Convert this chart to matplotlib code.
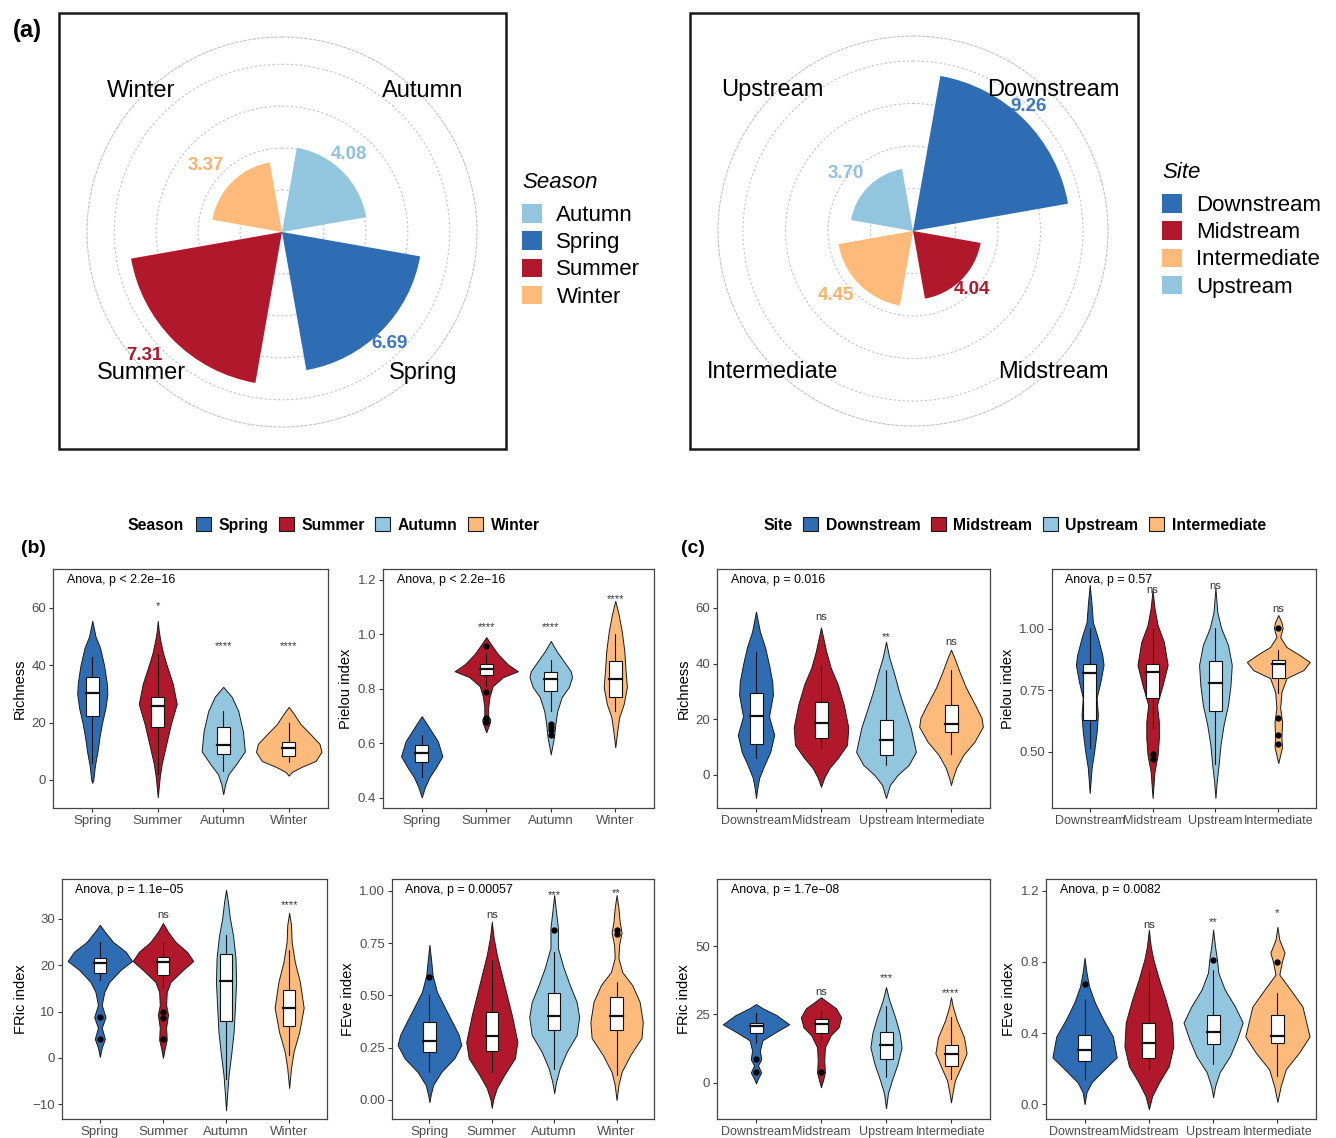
"""Rose charts of seasonal / site totals plus violin panels of diversity indices."""

import matplotlib
import numpy as np

matplotlib.use("Agg")
import matplotlib.pyplot as plt
from matplotlib.patches import Patch, Rectangle

plt.rcParams["font.family"] = ["Liberation Sans", "DejaVu Sans"]

# ---------------------------------------------------------------- data
SEASONS = ["Spring", "Summer", "Autumn", "Winter"]
SITES = ["Downstream", "Midstream", "Upstream", "Intermediate"]
BLUE, RED, LBLUE, ORANGE = "#2E6DB4", "#B2182B", "#92C5DE", "#FDBA7B"
GROUP_COLORS = [BLUE, RED, LBLUE, ORANGE]

# rose charts (clockwise from north)
ROSE_SEASON_NAMES = ["Autumn", "Spring", "Summer", "Winter"]
ROSE_SEASON_VALUES = [4.08, 6.69, 7.31, 3.37]
ROSE_SITE_NAMES = ["Downstream", "Midstream", "Intermediate", "Upstream"]
ROSE_SITE_VALUES = [9.26, 4.04, 4.45, 3.70]

# Richness ~ season : violin outline knots (value, half width), box stats, outliers, signif.
RICH_SEASON_VIOLIN = [
    [(-1, 0), (0, .015), (5, .04), (10, .08), (15, .11), (20, .15), (25, .2), (30, .23),
     (34, .22), (40, .18), (46, .12), (50, .05), (55.5, 0)],
    [(-6, 0), (1, .03), (5.6, .06), (12.6, .13), (19.5, .2), (26.5, .29), (33.5, .23),
     (40.5, .13), (44.3, .08), (48.5, .04), (52, .015), (55.5, 0)],
    [(-5, 0), (-1.4, .03), (2, .08), (5.6, .2), (10, .33), (17, .3), (24, .23), (29, .13), (32.5, 0)],
    [(1.5, 0), (2.8, .05), (4.5, .19), (6.6, .41), (9.8, .5), (12.6, .47), (16, .33),
     (19.5, .18), (23, .08), (25.5, 0)],
]
RICH_SEASON_BOX = [(6, 22.3, 30.4, 36, 43), (2, 18.5, 25.8, 29, 44),
                   (3, 9, 12.3, 18.5, 24), (6.3, 8.4, 11.2, 13.3, 19.8)]
RICH_SEASON_OUT = [[], [], [], []]
RICH_SEASON_SIG = [("", 0), ("*", 60.7), ("****", 46.8), ("****", 46.8)]

PIELOU_SEASON_VIOLIN = [
    [(.402, 0), (.439, .05), (.476, .12), (.512, .22), (.553, .32), (.608, .25), (.645, .15),
     (.682, .05), (.70, 0)],
    [(.641, 0), (.66, .03), (.68, .06), (.689, .06), (.70, .03), (.733, .03), (.77, .05),
     (.81, .1), (.843, .26), (.865, .49), (.891, .33), (.928, .18), (.965, .07), (.99, 0)],
    [(.56, 0), (.586, .02), (.623, .05), (.67, .07), (.718, .1), (.77, .17), (.807, .28),
     (.843, .33), (.865, .31), (.902, .2), (.939, .09), (.976, 0)],
    [(.586, 0), (.645, .03), (.696, .06), (.744, .13), (.807, .18), (.865, .16), (.939, .14),
     (1.012, .1), (1.075, .05), (1.123, 0)],
]
PIELOU_SEASON_BOX = [(.476, .531, .564, .593, .63), (.81, .851, .873, .891, .93),
                     (.718, .792, .836, .862, .907), (.718, .77, .836, .902, 1.0)]
PIELOU_SEASON_OUT = [[], [.957, .788, .693, .68], [.67, .66, .65, .63], []]
PIELOU_SEASON_SIG = [("", 0), ("****", 1.027), ("****", 1.027), ("****", 1.13)]

FRIC_SEASON_VIOLIN = [
    [(.2, 0), (2.2, .03), (4.1, .08), (6.5, .03), (8.8, .09), (11.4, .03), (14.2, .07),
     (16.4, .15), (19, .33), (20.9, .51), (22.9, .41), (25, .21), (27.2, .08), (28.7, 0)],
    [(0, 0), (2.2, .03), (3.9, .06), (6.5, .05), (9.3, .08), (11.4, .05), (14.2, .06),
     (16.4, .12), (19, .32), (20.9, .48), (22.9, .38), (25, .2), (27.2, .08), (29.1, 0)],
    [(-11.3, 0), (-7.4, .02), (-3.7, .04), (.6, .08), (5.6, .12), (10.8, .14), (16.4, .16),
     (21.6, .15), (26.5, .11), (30.2, .06), (33.7, .03), (36.3, 0)],
    [(-6.5, 0), (-2.2, .03), (1.3, .07), (5.6, .16), (10.8, .23), (16.4, .17), (20.7, .09),
     (25, .04), (28.7, .03), (31.3, 0)],
]
FRIC_SEASON_BOX = [(16.8, 18.3, 20.5, 21.6, 25), (15.3, 17.9, 20.7, 21.8, 25),
                   (-4.5, 8, 16.6, 22.4, 26.5), (.6, 6.9, 10.8, 14.7, 23.3)]
FRIC_SEASON_OUT = [[8.8, 4.1], [9.9, 8.5, 4.1], [], []]
FRIC_SEASON_SIG = [("", 0), ("ns", 30.9), ("", 0), ("****", 33)]

FEVE_SEASON_VIOLIN = [
    [(-.01, 0), (.024, .02), (.072, .06), (.134, .19), (.2, .4), (.263, .51), (.311, .47),
     (.359, .39), (.44, .25), (.517, .12), (.598, .05), (.66, .03), (.742, 0)],
    [(-.038, 0), (0, .02), (.057, .08), (.12, .2), (.2, .37), (.278, .41), (.407, .32),
     (.502, .24), (.598, .16), (.694, .08), (.775, .03), (.852, 0)],
    [(.033, 0), (.086, .03), (.153, .09), (.23, .2), (.311, .36), (.397, .4), (.469, .36),
     (.55, .25), (.632, .15), (.727, .06), (.823, .06), (.9, .03), (.98, 0)],
    [(0, 0), (.072, .03), (.134, .08), (.215, .22), (.297, .4), (.373, .42), (.469, .37),
     (.55, .25), (.612, .09), (.68, .03), (.742, .04), (.8, .08), (.852, .05), (.918, .03), (.98, 0)],
]
FEVE_SEASON_BOX = [(.134, .23, .282, .373, .502), (.134, .234, .306, .421, .67),
                   (.15, .335, .402, .512, .708), (.12, .335, .402, .493, .564)]
FEVE_SEASON_OUT = [[.589], [], [.813], [.813, .794]]
FEVE_SEASON_SIG = [("", 0), ("ns", .885), ("***", .98), ("**", .99)]

RICH_SITE_VIOLIN = [
    [(-8.3, 0), (-4.7, .02), (-1, .05), (3.6, .13), (8.3, .22), (14.4, .28), (21, .2),
     (28.8, .26), (33.5, .25), (39.6, .2), (45.8, .14), (51.5, .06), (58.7, 0)],
    [(-4.3, 0), (-1, .05), (2.5, .13), (6.1, .26), (10.8, .4), (17, .42), (25.2, .35),
     (32.4, .26), (38.5, .15), (44.3, .08), (49.7, .03), (53, 0)],
    [(-8.3, 0), (-3.6, .06), (0, .18), (3.6, .35), (8.3, .46), (16.9, .38), (24.1, .28),
     (29.9, .2), (36, .13), (42.2, .05), (47.9, 0)],
    [(-3.6, 0), (-1, .03), (2.5, .08), (7.2, .19), (11.9, .36), (17.3, .49), (20.5, .47),
     (25.2, .37), (31.4, .23), (37.1, .13), (42.2, .05), (45, 0)],
]
RICH_SITE_BOX = [(6.1, 11.2, 21.2, 29.5, 44.3), (9.7, 13.3, 18.7, 26.3, 39.6),
                 (3.6, 7.2, 12.6, 19.8, 37.8), (7.6, 15.5, 18.4, 25.2, 37.8)]
RICH_SITE_OUT = [[], [], [], []]
RICH_SITE_SIG = [("", 0), ("ns", 56.6), ("**", 49.7), ("ns", 47.9)]

PIELOU_SITE_VIOLIN = [
    [(.333, 0), (.435, .03), (.5, .07), (.581, .11), (.65, .13), (.72, .11), (.785, .17),
     (.854, .22), (.894, .2), (.963, .13), (1.028, .05), (1.098, .03), (1.179, 0)],
    [(.313, 0), (.419, .03), (.488, .08), (.557, .1), (.622, .1), (.691, .07), (.772, .16),
     (.854, .24), (.947, .18), (1.016, .08), (1.085, .03), (1.159, 0)],
    [(.313, 0), (.378, .02), (.447, .05), (.528, .08), (.61, .13), (.691, .2), (.772, .24),
     (.854, .26), (.935, .2), (1.004, .09), (1.069, .03), (1.167, 0)],
    [(.455, 0), (.488, .03), (.52, .06), (.557, .05), (.622, .06), (.679, .03), (.744, .05),
     (.8, .13), (.833, .4), (.866, .5), (.894, .34), (.927, .13), (.967, .03), (1.004, .07),
     (1.028, .05), (1.057, 0)],
]
PIELOU_SITE_BOX = [(.516, .63, .821, .858, 1.004), (.598, .72, .825, .858, 1.004),
                   (.45, .667, .78, .87, 1.004), (.74, .8, .858, .874, .915)]
PIELOU_SITE_OUT = [[], [.49, .47], [], [1.004, .638, .57, .532]]
PIELOU_SITE_SIG = [("", 0), ("ns", 1.159), ("ns", 1.175), ("ns", 1.081)]

FRIC_SITE_VIOLIN = [
    [(-.2, 0), (1.6, .03), (3.8, .08), (6.4, .03), (8.6, .08), (11.9, .06), (15.6, .1),
     (18.5, .3), (21.4, .51), (24.7, .32), (27.3, .1), (28.8, 0)],
    [(-1.6, 0), (.9, .03), (3.8, .06), (8.2, .05), (13, .06), (17.4, .15), (20.3, .27),
     (24, .31), (27.3, .23), (29.5, .1), (31.3, 0)],
    [(-9.3, 0), (-3.8, .03), (.9, .09), (7.1, .18), (13, .24), (18.1, .21), (24, .14),
     (30.2, .05), (35, 0)],
    [(-7.1, 0), (-2.8, .03), (.9, .06), (5.7, .15), (10.8, .24), (16.7, .2), (22.9, .09),
     (27.7, .03), (31.3, 0)],
]
FRIC_SITE_BOX = [(14.6, 18.1, 20.7, 21.8, 25.4), (15.6, 18.1, 21.4, 23.3, 26.2),
                 (2, 8.6, 13.7, 18.5, 28), (1.3, 6, 10.4, 13.7, 24)]
FRIC_SITE_OUT = [[8.6, 3.8], [3.8], [], []]
FRIC_SITE_SIG = [("", 0), ("ns", 33.2), ("***", 38.3), ("****", 32.8)]

FEVE_SITE_VIOLIN = [
    [(0, 0), (.067, .03), (.123, .11), (.196, .31), (.263, .5), (.381, .44), (.476, .29),
     (.572, .16), (.662, .07), (.74, .03), (.824, 0)],
    [(-.029, 0), (.044, .05), (.123, .16), (.213, .31), (.325, .38), (.459, .36), (.589, .26),
     (.7, .16), (.813, .07), (.886, .03), (.981, 0)],
    [(.039, 0), (.1, .03), (.179, .1), (.269, .26), (.364, .37), (.459, .46), (.549, .34),
     (.645, .18), (.74, .08), (.813, .06), (.886, .03), (.981, 0)],
    [(.012, 0), (.1, .05), (.196, .13), (.291, .34), (.381, .5), (.549, .39), (.645, .2),
     (.729, .03), (.802, .07), (.852, .11), (.925, .03), (.998, 0)],
]
FEVE_SITE_BOX = [(.14, .241, .302, .387, .589), (.196, .257, .342, .459, .75),
                 (.224, .336, .403, .504, .757), (.157, .342, .381, .504, .628)]
FEVE_SITE_OUT = [[.678], [], [.813], [.802]]
FEVE_SITE_SIG = [("", 0), ("ns", 1.009), ("**", 1.026), ("*", 1.077)]

# ---------------------------------------------------------------- layout helpers
W, H = 1336, 1138
fig = plt.figure(figsize=(W / 100, H / 100), dpi=100)


def px_rect(x0, y0, x1, y1):
    return [x0 / W, 1 - y1 / H, (x1 - x0) / W, (y1 - y0) / H]


GRID_KW = dict(color="#c4c4c4", linestyle=(0, (2, 2)), linewidth=0.8)


def draw_rose(center, rmax, breaks, names, values, colors, label_pos, label_colors):
    cx, cy = center
    R = 195
    ax = fig.add_axes(px_rect(cx - R, cy - R, cx + R, cy + R), projection="polar")
    ax.set_theta_zero_location("N")
    ax.set_theta_direction(-1)
    theta = np.deg2rad([45, 135, 225, 315])
    ax.set_axisbelow(True)
    ax.bar(theta, values, width=np.deg2rad(70), color=colors, linewidth=0, zorder=3)
    ax.set_rlim(0, rmax)
    ax.set_yticks(breaks)
    ax.set_yticklabels([])
    ax.set_xticks([])
    ax.yaxis.grid(True, **GRID_KW)
    ax.spines["polar"].set(**GRID_KW)
    ax.patch.set_alpha(0)
    for name, th in zip(names, theta):
        ax.text(th, rmax * 1.02, name, ha="center", va="center", fontsize=17, clip_on=False)
    for v, (ang, r), c in zip(values, label_pos, label_colors):
        ax.text(np.deg2rad(ang), r, f"{v:.2f}", ha="center", va="center", fontsize=13.5,
                fontweight="bold", color=c, zorder=5,
                family=["Liberation Sans Narrow", "Liberation Sans"])
    return ax


def draw_violins(rect, groups, profiles, boxes, outliers, sigs, pval, ylabel, ylim, yticks,
                 yfmt, xsize=9.5):
    ax = fig.add_axes(px_rect(*rect))
    for i, (prof, box, outs, sig, color) in enumerate(
            zip(profiles, boxes, outliers, sigs, GROUP_COLORS)):
        x0 = i + 1
        ys = np.array([p[0] for p in prof])
        hw = np.array([p[1] for p in prof])
        ax.fill_betweenx(ys, x0 - hw, x0 + hw, facecolor=color, edgecolor="#1a1a1a",
                         linewidth=0.7, zorder=2)
        wlo, q1, med, q3, whi = box
        ax.plot([x0, x0], [wlo, q1], color="#111111", lw=0.8, zorder=3)
        ax.plot([x0, x0], [q3, whi], color="#111111", lw=0.8, zorder=3)
        ax.add_patch(Rectangle((x0 - 0.1, q1), 0.2, q3 - q1, facecolor="white",
                               edgecolor="#111111", lw=0.8, zorder=4))
        ax.plot([x0 - 0.1, x0 + 0.1], [med, med], color="#111111", lw=1.6, zorder=5)
        if outs:
            ax.plot([x0] * len(outs), outs, "o", color="black", ms=3.5, zorder=6)
        if sig[0]:
            ax.text(x0, sig[1], sig[0], ha="center", va="center", fontsize=8, color="#333333",
                    zorder=7)
    ax.text(0.05, 0.955, pval, transform=ax.transAxes, ha="left", va="center", fontsize=8.9)
    ax.set_xlim(0.4, 4.6)
    ax.set_ylim(*ylim)
    ax.set_xticks(range(1, 5))
    ax.set_xticklabels(groups)
    ax.set_yticks(yticks)
    ax.set_yticklabels([yfmt.format(t).replace("-", "\u2212") for t in yticks])
    ax.tick_params(direction="out", length=3, width=0.8, color="#333333",
                   labelcolor="#4d4d4d", labelsize=9.5, pad=2)
    ax.tick_params(axis="x", labelsize=xsize)
    for sp in ax.spines.values():
        sp.set_color("#444444")
        sp.set_linewidth(0.9)
    ax.set_ylabel(ylabel, fontsize=10.5, labelpad=3)
    return ax


# ---------------------------------------------------------------- (a) rose charts
for x0, x1 in [(59, 506), (690, 1138)]:
    fig.add_artist(Rectangle((x0 / W, 1 - 449 / H), (x1 - x0) / W, (449 - 13) / H,
                             transform=fig.transFigure, fill=False, edgecolor="#1a1a1a",
                             linewidth=1.8))

season_color = {"Autumn": LBLUE, "Spring": BLUE, "Summer": RED, "Winter": ORANGE}
site_color = {"Downstream": BLUE, "Midstream": RED, "Intermediate": ORANGE, "Upstream": LBLUE}

draw_rose((282, 232), 9.3, [2, 4, 6, 8], ROSE_SEASON_NAMES, ROSE_SEASON_VALUES,
          [season_color[n] for n in ROSE_SEASON_NAMES],
          [(41, 4.9), (136, 7.4), (228, 8.8), (311, 4.8)],
          ["#8FC1DC", "#3A78C4", RED, "#F9B26C"])
draw_rose((913, 231), 11.47, [2.5, 5, 7.5, 10], ROSE_SITE_NAMES, ROSE_SITE_VALUES,
          [site_color[n] for n in ROSE_SITE_NAMES],
          [(43, 10.0), (135, 4.9), (230, 5.9), (311, 5.2)],
          ["#3A78C4", RED, "#F9B26C", "#8FC1DC"])

LEG_SEASON = ["Autumn", "Spring", "Summer", "Winter"]
LEG_SITE = ["Downstream", "Midstream", "Intermediate", "Upstream"]
for labels, cmap, title, anchor in [
        (LEG_SEASON, season_color, "Season", (522, 172)),
        (LEG_SITE, site_color, "Site", (1162, 162))]:
    handles = [Patch(facecolor=cmap[n], edgecolor="none") for n in labels]
    leg = fig.legend(handles, labels, loc="upper left",
                     bbox_to_anchor=(anchor[0] / W, 1 - anchor[1] / H), frameon=False,
                     fontsize=16, handlelength=0.9, handleheight=0.9, handletextpad=0.65,
                     labelspacing=0.24, borderpad=0, borderaxespad=0, alignment="left")
    leg.set_title(title, prop={"size": 16, "style": "italic"})
    leg._legend_box.sep = 8

fig.text(27 / W, 1 - 30 / H, "(a)", fontsize=17, fontweight="bold", va="center", ha="center")
fig.text(33 / W, 1 - 548 / H, "(b)", fontsize=14, fontweight="bold", va="center", ha="center")
fig.text(693 / W, 1 - 548 / H, "(c)", fontsize=14, fontweight="bold", va="center", ha="center")

# ---------------------------------------------------------------- legends for (b) and (c)
for groups, title, tx, lx in [(SEASONS, "Season", 128, 196), (SITES, "Site", 763, 803)]:
    fig.text(tx / W, 1 - 525 / H, title, fontsize=11.3, fontweight="bold", va="center")
    handles = [Patch(facecolor=c, edgecolor="#1a1a1a", linewidth=0.8) for c in GROUP_COLORS]
    fig.legend(handles, groups, loc="center left", bbox_to_anchor=(lx / W, 1 - 525 / H),
               ncol=4, frameon=False, prop={"size": 11.3, "weight": "bold"},
               handlelength=0.95, handleheight=0.95, handletextpad=0.5, columnspacing=0.65,
               borderpad=0, borderaxespad=0)

# ---------------------------------------------------------------- (b) and (c) violins
MINUS = "\u2212"
draw_violins((53, 569, 328, 808), SEASONS, RICH_SEASON_VIOLIN, RICH_SEASON_BOX,
             RICH_SEASON_OUT, RICH_SEASON_SIG, f"Anova, p < 2.2e{MINUS}16", "Richness",
             (-9.8, 73.6), [0, 20, 40, 60], "{:.0f}")
draw_violins((383, 569, 654, 808), SEASONS, PIELOU_SEASON_VIOLIN, PIELOU_SEASON_BOX,
             PIELOU_SEASON_OUT, PIELOU_SEASON_SIG, f"Anova, p < 2.2e{MINUS}16", "Pielou index",
             (0.363, 1.24), [0.4, 0.6, 0.8, 1.0, 1.2], "{:.1f}")
draw_violins((62, 879, 327, 1119), SEASONS, FRIC_SEASON_VIOLIN, FRIC_SEASON_BOX,
             FRIC_SEASON_OUT, FRIC_SEASON_SIG, f"Anova, p = 1.1e{MINUS}05", "FRic index",
             (-13.2, 38.6), [-10, 0, 10, 20, 30], "{:.0f}")
draw_violins((392, 879, 654, 1119), SEASONS, FEVE_SEASON_VIOLIN, FEVE_SEASON_BOX,
             FEVE_SEASON_OUT, FEVE_SEASON_SIG, "Anova, p = 0.00057", "FEve index",
             (-0.091, 1.057), [0, 0.25, 0.5, 0.75, 1.0], "{:.2f}")

draw_violins((717, 569, 990, 808), SITES, RICH_SITE_VIOLIN, RICH_SITE_BOX,
             RICH_SITE_OUT, RICH_SITE_SIG, "Anova, p = 0.016", "Richness",
             (-11.9, 74), [0, 20, 40, 60], "{:.0f}", xsize=9)
draw_violins((1052, 569, 1316, 808), SITES, PIELOU_SITE_VIOLIN, PIELOU_SITE_BOX,
             PIELOU_SITE_OUT, PIELOU_SITE_SIG, "Anova, p = 0.57", "Pielou index",
             (0.272, 1.244), [0.5, 0.75, 1.0], "{:.2f}", xsize=9)
draw_violins((717, 879, 990, 1119), SITES, FRIC_SITE_VIOLIN, FRIC_SITE_BOX,
             FRIC_SITE_OUT, FRIC_SITE_SIG, f"Anova, p = 1.7e{MINUS}08", "FRic index",
             (-13.2, 74.5), [0, 25, 50], "{:.0f}", xsize=9)
draw_violins((1046, 879, 1316, 1119), SITES, FEVE_SITE_VIOLIN, FEVE_SITE_BOX,
             FEVE_SITE_OUT, FEVE_SITE_SIG, "Anova, p = 0.0082", "FEve index",
             (-0.084, 1.267), [0, 0.4, 0.8, 1.2], "{:.1f}", xsize=9)

fig.savefig("out.png", dpi=100)
